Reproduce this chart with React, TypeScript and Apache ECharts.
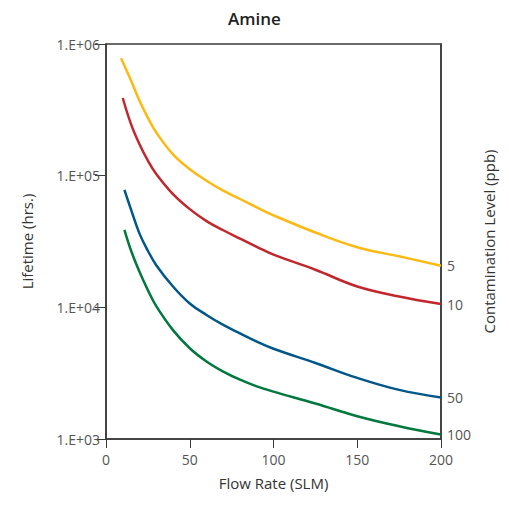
import React, { useEffect, useRef } from "react";
import * as echarts from "echarts";

const commonFlow = [15, 20, 25, 30, 40, 50, 60, 70, 80, 90, 100, 125, 150, 175, 200];
const flow5 = [9, ...commonFlow];
const flow10 = [10, ...commonFlow];
const flow50 = [11, ...commonFlow];
const flow100 = [11, ...commonFlow];
const ppb5 = [778000, 525000, 370000, 275000, 213000, 145000, 112000, 91600, 76900, 66500, 57400, 50000, 37000, 28600, 24400, 20700];
const ppb10 = [389000, 245000, 173000, 130000, 103000, 72400, 55700, 45200, 38500, 33300, 28800, 25100, 19300, 14400, 12100, 10600];
const ppb50 = [78000, 55000, 36300, 26900, 20900, 14400, 10700, 8750, 7350, 6350, 5500, 4850, 3780, 2910, 2360, 2070];
const ppb100 = [38800, 26900, 18600, 13500, 10200, 6710, 4890, 3880, 3250, 2820, 2510, 2290, 1860, 1490, 1250, 1080];
const xTicks = [0, 50, 100, 150, 200];
const levelLabels = ["5", "10", "50", "100"];
const colors = ["#FDB913", "#C1272D", "#00578A", "#00783E"];

export default function App() {
  const ref = useRef<HTMLDivElement>(null);
  useEffect(() => {
    if (!ref.current) return;
    const chart = echarts.init(ref.current, undefined, { renderer: "svg" });
    const font = "'Open Sans', 'Noto Sans', sans-serif";
    const flows = [flow5, flow10, flow50, flow100];
    const all = [ppb5, ppb10, ppb50, ppb100];
    chart.setOption({
      animation: false,
      title: {
        text: "Amine",
        left: "center",
        top: 5,
        textStyle: { fontFamily: font, fontSize: 17, fontWeight: 600, color: "#222" },
      },
      grid: {
        left: 106,
        right: 68,
        top: 44,
        bottom: 69,
        show: true,
        borderColor: "#3a3a3a",
        borderWidth: 1.5,
      },
      xAxis: {
        type: "value",
        min: 0,
        max: 200,
        interval: 50,
        name: "Flow Rate (SLM)",
        nameLocation: "middle",
        nameGap: 36,
        nameTextStyle: { fontFamily: font, fontSize: 15, color: "#333" },
        axisLine: { show: true, lineStyle: { color: "#3a3a3a", width: 1.5 } },
        axisTick: { show: true, inside: false, length: 9, lineStyle: { color: "#3a3a3a", width: 1 } },
        axisLabel: {
          fontFamily: font,
          fontSize: 14,
          color: "#555",
          margin: 13,
          formatter: (v: number) => (xTicks.includes(v) ? String(v) : ""),
        },
        splitLine: { show: false },
      },
      yAxis: [
        {
          type: "log",
          logBase: 10,
          min: 1000,
          max: 1000000,
          name: "Lifetime (hrs.)",
          nameLocation: "middle",
          nameGap: 72,
          nameTextStyle: { fontFamily: font, fontSize: 15, color: "#333" },
          axisLine: { show: true, lineStyle: { color: "#3a3a3a", width: 1.5 } },
          axisTick: { show: true, length: 11, lineStyle: { color: "#3a3a3a", width: 1 } },
          axisLabel: {
            fontFamily: font,
            fontSize: 14,
            color: "#555",
            margin: 6,
            formatter: (v: number) => {
              const e = Math.round(Math.log10(v));
              return "1.E+" + String(e).padStart(2, "0");
            },
          },
          splitLine: { show: false },
        },
        {
          type: "log",
          logBase: 10,
          min: 1000,
          max: 1000000,
          position: "right",
          name: "Contamination Level (ppb)",
          nameLocation: "middle",
          nameGap: 40,
          nameRotate: 90,
          nameTextStyle: { fontFamily: font, fontSize: 15, color: "#333" },
          axisLine: { show: true, lineStyle: { color: "#3a3a3a", width: 1.5 } },
          axisTick: { show: false },
          axisLabel: { show: false },
          splitLine: { show: false },
        },
      ],
      series: all.map((d, i) => ({
        type: "line",
        yAxisIndex: 0,
        data: flows[i].map((x, j) => [x, d[j]]),
        smooth: 0.4,
        showSymbol: false,
        lineStyle: { color: colors[i], width: 2.5 },
        endLabel: {
          show: true,
          formatter: levelLabels[i],
          distance: 6,
          fontFamily: font,
          fontSize: 14,
          color: "#555",
        },
      })),
    });
    return () => chart.dispose();
  }, []);
  return <div ref={ref} style={{ width: 509, height: 508, position: "absolute", left: 0, top: 0 }} />;
}
